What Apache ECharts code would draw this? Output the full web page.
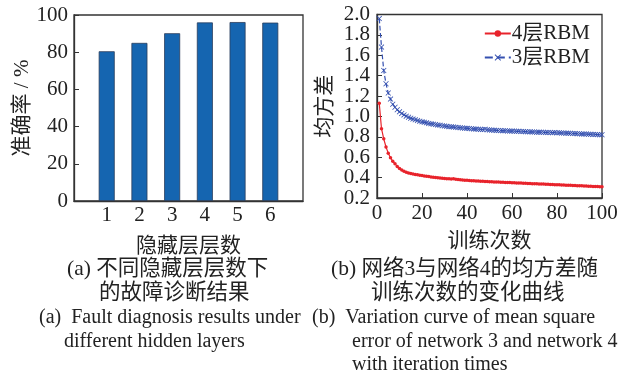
<!DOCTYPE html>
<html>
<head>
<meta charset="utf-8">
<script src="https://cdn.jsdelivr.net/npm/echarts@6/dist/echarts.min.js"></script>
<style>
html,body{margin:0;padding:0;background:#fff;}
#c{width:632px;height:376px;}
</style>
</head>
<body>
<div id="c"></div>
<script>
// ---- data ----
const layerCategories = [1, 2, 3, 4, 5, 6];
const accuracyValues = [80.5, 85, 90.2, 96, 96.2, 95.9];

const iterations = [];
for (let i = 1; i <= 100; i++) iterations.push(i);

const rbm4Values = [1.13,0.88,0.78,0.70,0.64,0.595,0.56,0.535,0.51,0.49,
0.475,0.462,0.452,0.445,0.44,0.435,0.43,0.427,0.424,0.42,
0.416,0.413,0.41,0.407,0.404,0.401,0.399,0.397,0.394,0.392,
0.39,0.388,0.386,0.389,0.383,0.381,0.379,0.377,0.375,0.373,
0.371,0.37,0.369,0.367,0.366,0.365,0.364,0.362,0.361,0.36,
0.359,0.358,0.357,0.356,0.355,0.354,0.353,0.352,0.351,0.35,
0.349,0.348,0.347,0.346,0.345,0.344,0.343,0.342,0.341,0.34,
0.339,0.338,0.337,0.338,0.335,0.334,0.333,0.332,0.331,0.33,
0.329,0.328,0.327,0.326,0.325,0.324,0.323,0.322,0.321,0.32,
0.319,0.318,0.317,0.316,0.315,0.314,0.313,0.312,0.311,0.31];

const rbm3Values = [1.96,1.68,1.45,1.32,1.23,1.17,1.12,1.09,1.065,1.045,
1.03,1.015,1.003,0.992,0.982,0.974,0.967,0.96,0.953,0.947,
0.942,0.937,0.932,0.928,0.924,0.92,0.916,0.913,0.909,0.906,
0.903,0.9,0.898,0.896,0.893,0.891,0.889,0.887,0.885,0.883,
0.881,0.879,0.878,0.876,0.875,0.873,0.872,0.874,0.869,0.867,
0.866,0.865,0.863,0.862,0.861,0.86,0.859,0.858,0.857,0.856,
0.855,0.854,0.855,0.853,0.852,0.851,0.85,0.849,0.848,0.847,
0.846,0.846,0.845,0.844,0.843,0.843,0.842,0.841,0.843,0.84,
0.839,0.838,0.837,0.836,0.835,0.834,0.833,0.832,0.831,0.83,
0.829,0.828,0.827,0.826,0.825,0.824,0.823,0.822,0.821,0.82];

const seriesNames = ['4层RBM', '3层RBM'];

const captionsA = ['(a) 不同隐藏层层数下', '的故障诊断结果', '(a)  Fault diagnosis results under', 'different hidden layers'];
const captionsB = ['(b) 网络3与网络4的均方差随', '训练次数的变化曲线', '(b)  Variation curve of mean square', 'error of network 3 and network 4', 'with iteration times'];

// ---- chart ----
const FONT = '"Liberation Serif", "Noto Sans CJK SC", serif';
const TXT = '#222';
const chart = echarts.init(document.getElementById('c'), null, {renderer: 'canvas'});

const axisLine = {show: true, lineStyle: {color: '#333', width: 1.3}};
const labelStyle = {fontFamily: FONT, fontSize: 21, color: TXT};
const nameStyle = {fontFamily: FONT, fontSize: 21, color: TXT};

function capText(x, y, t, size) {
  return {type: 'text', left: x, top: y, style: {text: t, font: size + 'px ' + FONT, fill: TXT}};
}

const graphics = [
  capText(67, 259, captionsA[0], 21.5),
  capText(99, 283, captionsA[1], 21.5),
  capText(39, 308, captionsA[2], 20),
  capText(64, 332, captionsA[3], 20),
  capText(331, 259, captionsB[0], 21.5),
  capText(371, 283, captionsB[1], 21.5),
  capText(312, 308, captionsB[2], 20),
  capText(352, 332, captionsB[3], 20),
  capText(352, 355, captionsB[4], 20)
];

// right chart y labels split over two overlaid axes (odd / even tick steps) so none are dropped
const stepIdx = v => Math.round(v / 0.2);

const option = {
  backgroundColor: '#fff',
  animation: false,
  grid: [
    {left: 74, right: 329, top: 15, bottom: 175, show: true, borderColor: '#333', borderWidth: 1.3},
    {left: 377, right: 30, top: 14.5, bottom: 178, show: true, borderColor: '#333', borderWidth: 1.3}
  ],
  legend: {
    right: 37, top: 18, orient: 'vertical', itemGap: 3, itemWidth: 26, itemHeight: 8,
    data: seriesNames,
    textStyle: {fontFamily: FONT, fontSize: 21, color: TXT, padding: [0, 0, 0, -4]}
  },
  xAxis: [
    {
      type: 'value', gridIndex: 0, min: 0, max: 7, interval: 1,
      axisLine: axisLine, axisTick: {show: false}, splitLine: {show: false},
      axisLabel: Object.assign({margin: 4, formatter: v => (v >= 1 && v <= 6) ? String(v) : ''}, labelStyle),
      name: '隐藏层层数', nameLocation: 'middle', nameGap: 35, nameTextStyle: nameStyle
    },
    {
      type: 'value', gridIndex: 1, min: 0, max: 100, interval: 20,
      axisLine: axisLine, axisTick: {show: true, inside: true, length: 5, lineStyle: {color: '#333'}},
      splitLine: {show: false},
      axisLabel: Object.assign({margin: 5, showMinLabel: true, showMaxLabel: true}, labelStyle),
      name: '训练次数', nameLocation: 'middle', nameGap: 33, nameTextStyle: nameStyle
    }
  ],
  yAxis: [
    {
      type: 'value', gridIndex: 0, min: 0, max: 100, interval: 20,
      axisLine: axisLine, axisTick: {show: true, inside: true, length: 5, lineStyle: {color: '#333'}},
      splitLine: {show: false},
      axisLabel: Object.assign({margin: 6, showMinLabel: true, showMaxLabel: true}, labelStyle),
      name: '准确率 / %', nameLocation: 'middle', nameGap: 38, nameTextStyle: nameStyle
    },
    {
      type: 'value', gridIndex: 1, position: 'left', min: 0.2, max: 2.0, interval: 0.2,
      axisLine: axisLine, axisTick: {show: true, inside: true, length: 5, lineStyle: {color: '#333'}},
      splitLine: {show: false},
      axisLabel: Object.assign({}, labelStyle, {
        margin: 7, showMinLabel: true, showMaxLabel: false,
        formatter: v => (stepIdx(v) % 2 === 1) ? v.toFixed(1) : ''
      }),
      name: '均方差', nameLocation: 'middle', nameGap: 41, nameTextStyle: nameStyle
    },
    {
      type: 'value', gridIndex: 1, position: 'right', offset: -225, min: 0.2, max: 2.0, interval: 0.2,
      axisLine: {show: false}, axisTick: {show: false}, splitLine: {show: false},
      axisLabel: Object.assign({}, labelStyle, {
        inside: true, margin: 7, showMinLabel: false, showMaxLabel: true,
        formatter: v => (stepIdx(v) % 2 === 0) ? v.toFixed(1) : ''
      })
    }
  ],
  series: [
    {
      type: 'bar', xAxisIndex: 0, yAxisIndex: 0, barWidth: 16,
      data: layerCategories.map((c, i) => [c, accuracyValues[i]]),
      itemStyle: {color: '#1565b0', borderColor: '#2b3d5c', borderWidth: 0.8}
    },
    {
      name: seriesNames[0], type: 'line', xAxisIndex: 1, yAxisIndex: 1,
      data: iterations.map((x, i) => [x, rbm4Values[i]]),
      symbol: 'circle', symbolSize: 3.5, showSymbol: true,
      lineStyle: {color: '#e8232b', width: 1.2},
      itemStyle: {color: '#e8232b'}
    },
    {
      name: seriesNames[1], type: 'line', xAxisIndex: 1, yAxisIndex: 1,
      data: iterations.map((x, i) => [x, rbm3Values[i]]),
      symbol: 'path://M0,1L1,0L5,4L9,0L10,1L6,5L10,9L9,10L5,6L1,10L0,9L4,5Z', symbolSize: 5.5, showSymbol: true,
      lineStyle: {color: '#3450b0', width: 1.2, type: 'dashed'},
      itemStyle: {color: '#3450b0'}
    }
  ],
  graphic: graphics
};
chart.setOption(option);
</script>
</body>
</html>
